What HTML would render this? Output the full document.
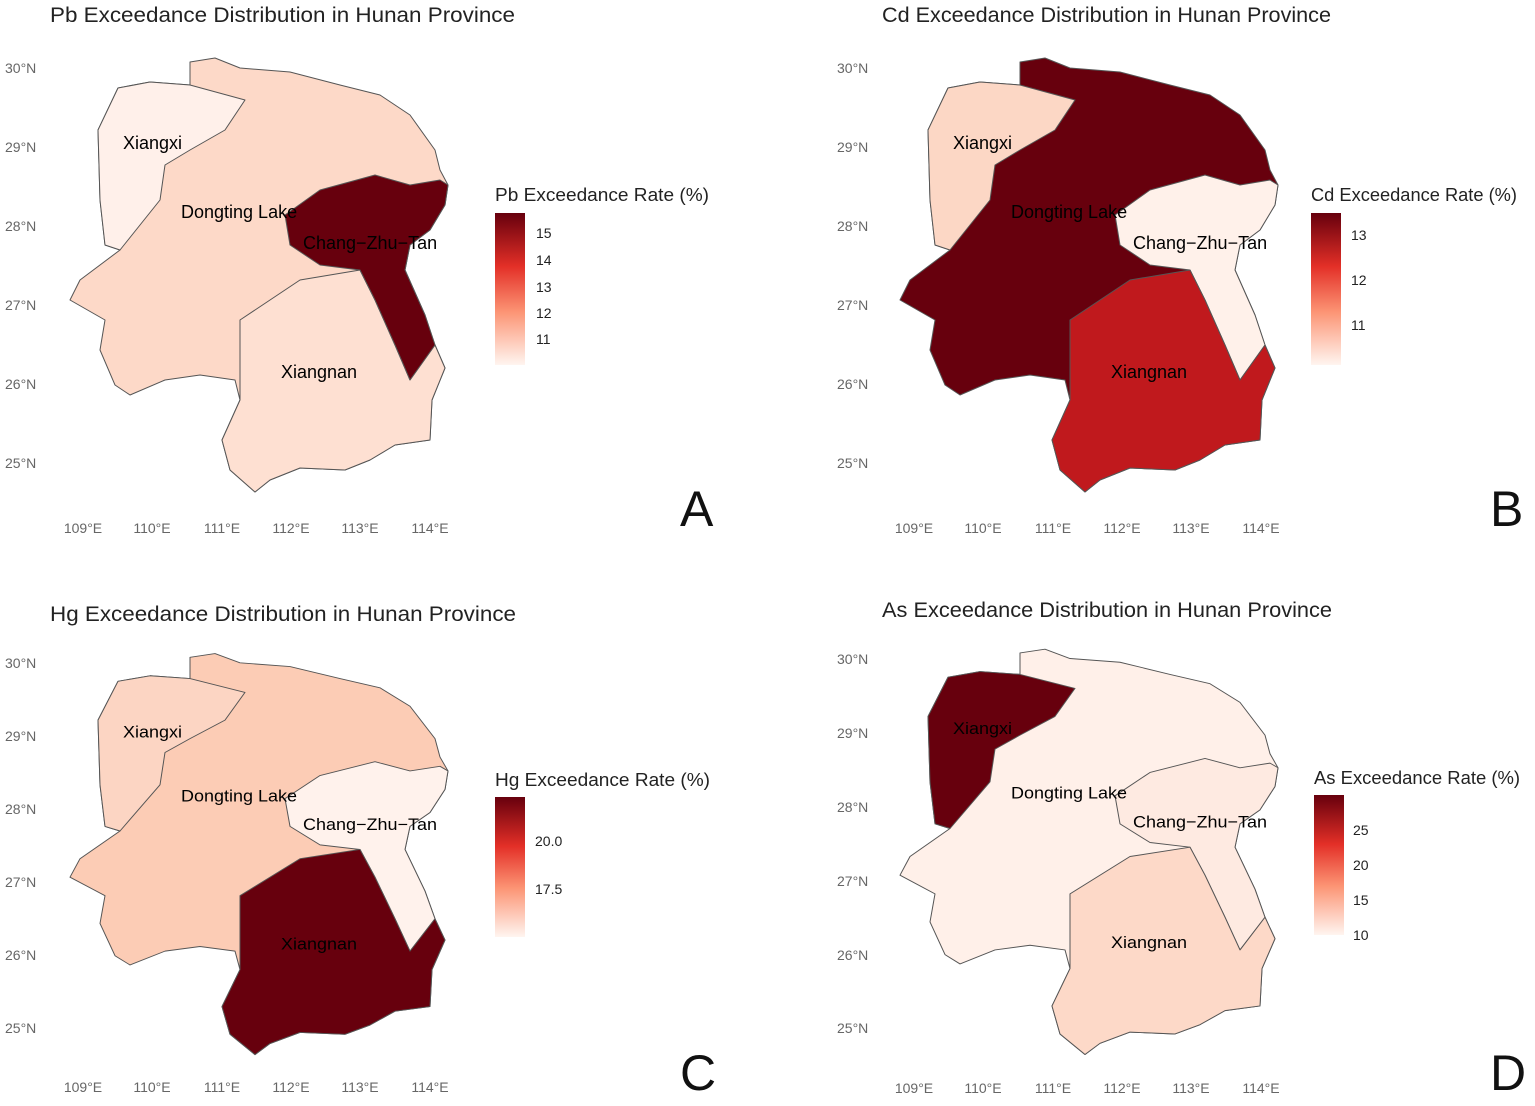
<!DOCTYPE html>
<html><head><meta charset="utf-8"><style>
body{margin:0;background:#fff}
svg text{font-family:"Liberation Sans",sans-serif}
</style></head><body>
<svg width="1535" height="1101" viewBox="0 0 1535 1101" xmlns="http://www.w3.org/2000/svg">
<defs>
<path id="prov" d="M190,62 L215,58 L240,68 L290,72 L340,85 L380,95 L410,115 L435,150 L440,170 L448,185 L445,205 L430,230 L410,245 L405,270 L425,315 L435,345 L445,368 L432,400 L430,440 L395,445 L370,460 L345,470 L300,468 L270,480 L255,492 L230,470 L222,440 L240,400 L235,380 L200,375 L165,380 L130,395 L115,385 L100,350 L105,320 L70,300 L80,280 L120,250 L105,245 L100,200 L98,130 L118,88 L150,82 L190,85 Z"/>
<path id="xx" d="M118,88 L150,82 L190,85 L245,100 L225,130 L190,150 L165,165 L160,200 L120,250 L105,245 L100,200 L98,130 Z"/>
<path id="czt" d="M285,215 L320,190 L375,175 L410,185 L440,180 L448,185 L445,205 L430,230 L410,245 L405,270 L425,315 L435,345 L410,380 L395,345 L375,300 L360,270 L320,265 L290,245 Z"/>
<path id="xn" d="M240,320 L300,280 L360,270 L375,300 L395,345 L410,380 L435,345 L445,368 L432,400 L430,440 L395,445 L370,460 L345,470 L300,468 L270,480 L255,492 L230,470 L222,440 L240,400 Z"/>
<linearGradient id="g" x1="0" y1="0" x2="0" y2="1"><stop offset="0" stop-color="#67000d"/><stop offset="0.35" stop-color="#e32f27"/><stop offset="0.65" stop-color="#fc9474"/><stop offset="1" stop-color="#fff5f0"/></linearGradient>
<g id="labs" font-size="18" fill="#000">
<text x="123" y="149">Xiangxi</text><text x="181" y="218">Dongting Lake</text><text x="303" y="249">Chang−Zhu−Tan</text><text x="281" y="378">Xiangnan</text>
</g>
<g id="axes" font-size="14" fill="#666">
<text x="5" y="73">30°N</text><text x="5" y="152">29°N</text><text x="5" y="231">28°N</text><text x="5" y="310">27°N</text><text x="5" y="389">26°N</text><text x="5" y="468">25°N</text>
</g>
</defs>
<g stroke="#555" stroke-width="1" stroke-linejoin="round">
<g><use href="#prov" fill="#fdd9c8"/><use href="#xx" fill="#fff0ea"/><use href="#xn" fill="#fee0d2"/><use href="#czt" fill="#67000d"/></g>
<g transform="translate(830,0)"><use href="#prov" fill="#67000d"/><use href="#xx" fill="#fcd7c5"/><use href="#czt" fill="#fff1ea"/><use href="#xn" fill="#c0191d"/></g>
<g transform="translate(0,600) scale(1,0.924)"><use href="#prov" fill="#fcccb5"/><use href="#xx" fill="#fcd5c3"/><use href="#czt" fill="#fff2ec"/><use href="#xn" fill="#67000d"/></g>
<g transform="translate(830,595) scale(1,0.934)"><use href="#prov" fill="#fff0e9"/><use href="#xx" fill="#67000d"/><use href="#czt" fill="#feeae1"/><use href="#xn" fill="#fdd9c8"/></g>
</g>
<use href="#labs"/><use href="#labs" transform="translate(830,0)"/>
<use href="#labs" transform="translate(0,600) scale(1,0.924)"/><use href="#labs" transform="translate(830,595) scale(1,0.934)"/>
<use href="#axes"/><use href="#axes" transform="translate(832,0)"/>
<g font-size="14" fill="#666"><text x="5" y="668">30°N</text><text x="5" y="741">29°N</text><text x="5" y="814">28°N</text><text x="5" y="887">27°N</text><text x="5" y="960">26°N</text><text x="5" y="1033">25°N</text>
<text x="837" y="664">30°N</text><text x="837" y="738">29°N</text><text x="837" y="812">28°N</text><text x="837" y="886">27°N</text><text x="837" y="960">26°N</text><text x="837" y="1033">25°N</text></g>
<g font-size="14" fill="#666" text-anchor="middle">
<g id="lon"><text x="83" y="533">109°E</text><text x="152" y="533">110°E</text><text x="222" y="533">111°E</text><text x="291" y="533">112°E</text><text x="360" y="533">113°E</text><text x="430" y="533">114°E</text></g>
<use href="#lon" transform="translate(831,0)"/><use href="#lon" transform="translate(0,559)"/><use href="#lon" transform="translate(831,560)"/>
</g>
<g font-size="21" fill="#222" textLength="465">
<text x="50" y="22" textLength="465" lengthAdjust="spacingAndGlyphs">Pb Exceedance Distribution in Hunan Province</text>
<text x="882" y="22" textLength="449" lengthAdjust="spacingAndGlyphs">Cd Exceedance Distribution in Hunan Province</text>
<text x="50" y="621" textLength="466" lengthAdjust="spacingAndGlyphs">Hg Exceedance Distribution in Hunan Province</text>
<text x="882" y="617" textLength="450" lengthAdjust="spacingAndGlyphs">As Exceedance Distribution in Hunan Province</text>
</g>
<g font-size="18" fill="#222">
<text x="495" y="201" textLength="214" lengthAdjust="spacingAndGlyphs">Pb Exceedance Rate (%)</text><text x="1311" y="201" textLength="206" lengthAdjust="spacingAndGlyphs">Cd Exceedance Rate (%)</text>
<text x="495" y="786" textLength="215" lengthAdjust="spacingAndGlyphs">Hg Exceedance Rate (%)</text><text x="1314" y="784" textLength="206" lengthAdjust="spacingAndGlyphs">As Exceedance Rate (%)</text>
</g>
<rect x="495" y="213" width="30" height="152" fill="url(#g)"/>
<rect x="1311" y="213" width="30" height="152" fill="url(#g)"/>
<rect x="495" y="797" width="30" height="140" fill="url(#g)"/>
<rect x="1314" y="795" width="30" height="140" fill="url(#g)"/>
<g font-size="14" fill="#222">
<text x="536" y="238">15</text><text x="536" y="265">14</text><text x="536" y="292">13</text><text x="536" y="318">12</text><text x="536" y="344">11</text>
<text x="1351" y="240">13</text><text x="1351" y="285">12</text><text x="1351" y="330">11</text>
<text x="535" y="846">20.0</text><text x="535" y="894">17.5</text>
<text x="1353" y="835">25</text><text x="1353" y="870">20</text><text x="1353" y="905">15</text><text x="1353" y="940">10</text>
</g>
<g font-family="Liberation Serif,serif" font-size="50" fill="#111">
<text x="680" y="526">A</text><text x="1490" y="526">B</text><text x="680" y="1090">C</text><text x="1490" y="1090">D</text>
</g>
</svg>
</body></html>
